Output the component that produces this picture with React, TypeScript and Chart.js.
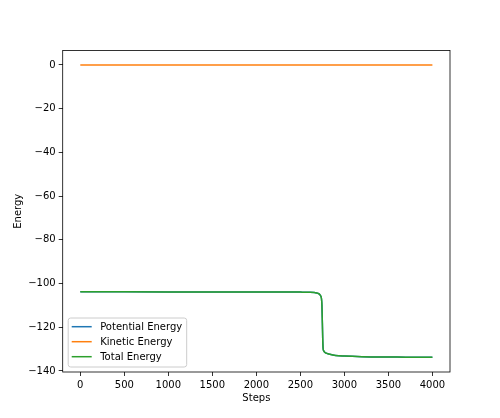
import React, { useEffect, useRef } from "react";
import { Chart, registerables } from "chart.js";
Chart.register(...registerables);

const steps = [0, 1000, 2000, 2500, 2600, 2660, 2700, 2725, 2740, 2745, 2750, 2754, 2758, 2765, 2780, 2800, 2835, 2900, 3000, 3200, 3400, 3700, 4000];
const potentialEnergy = [-103.8, -103.85, -103.9, -103.95, -104.0, -104.15, -104.5, -105.3, -107, -110, -118, -125, -129.5, -130.8, -131.6, -132.0, -132.4, -132.9, -133.2, -133.5, -133.6, -133.7, -133.8];
const kineticEnergy = [0, 0, 0, 0, 0, 0, 0, 0, 0, 0, 0, 0, 0, 0, 0, 0, 0, 0, 0, 0, 0, 0, 0];
const totalEnergy = [-103.8, -103.85, -103.9, -103.95, -104.0, -104.15, -104.5, -105.3, -107, -110, -118, -125, -129.5, -130.8, -131.6, -132.0, -132.4, -132.9, -133.2, -133.5, -133.6, -133.7, -133.8];

const xTickValues = [0, 500, 1000, 1500, 2000, 2500, 3000, 3500, 4000];
const yTickValues = [0, -20, -40, -60, -80, -100, -120, -140];

const seriesNames = ["Potential Energy", "Kinetic Energy", "Total Energy"];
const seriesColors = ["#1f77b4", "#ff7f0e", "#2ca02c"];
const xTitle = "Steps";
const yTitle = "Energy";

const FONT = '"DejaVu Sans", sans-serif';

const fmt = (v: number) => (v < 0 ? "\u2212" + Math.abs(v) : String(v));

const framePlugin = {
  id: "frameBox",
  afterDatasetsDraw(chart: any) {
    const { ctx, chartArea } = chart;
    ctx.save();
    ctx.strokeStyle = "#000";
    ctx.lineWidth = 0.8;
    ctx.strokeRect(chartArea.left, chartArea.top, chartArea.right - chartArea.left, chartArea.bottom - chartArea.top);
    ctx.restore();
  },
};

const legendPlugin = {
  id: "innerLegend",
  afterDatasetsDraw(chart: any) {
    const { ctx, chartArea } = chart;
    const datasets = chart.data.datasets;
    ctx.save();
    ctx.font = "10px " + FONT;
    const widths = datasets.map((d: any) => ctx.measureText(d.label).width);
    const maxW = Math.max(...widths);
    const boxX = chartArea.left + 5.5;
    const boxW = 32 + maxW + 4.5;
    const boxH = 49;
    const boxY = chartArea.bottom - 5 - boxH;
    const r = 2.5;
    ctx.beginPath();
    ctx.moveTo(boxX + r, boxY);
    ctx.lineTo(boxX + boxW - r, boxY);
    ctx.quadraticCurveTo(boxX + boxW, boxY, boxX + boxW, boxY + r);
    ctx.lineTo(boxX + boxW, boxY + boxH - r);
    ctx.quadraticCurveTo(boxX + boxW, boxY + boxH, boxX + boxW - r, boxY + boxH);
    ctx.lineTo(boxX + r, boxY + boxH);
    ctx.quadraticCurveTo(boxX, boxY + boxH, boxX, boxY + boxH - r);
    ctx.lineTo(boxX, boxY + r);
    ctx.quadraticCurveTo(boxX, boxY, boxX + r, boxY);
    ctx.closePath();
    ctx.fillStyle = "rgba(255,255,255,0.8)";
    ctx.fill();
    ctx.strokeStyle = "#cccccc";
    ctx.lineWidth = 1;
    ctx.stroke();
    datasets.forEach((d: any, i: number) => {
      const y = boxY + 8.7 + i * 15;
      ctx.beginPath();
      ctx.strokeStyle = d.borderColor;
      ctx.lineWidth = 1.5;
      ctx.moveTo(boxX + 3.5, y);
      ctx.lineTo(boxX + 23.5, y);
      ctx.stroke();
      ctx.fillStyle = "#000";
      ctx.textBaseline = "middle";
      ctx.textAlign = "left";
      ctx.fillText(d.label, boxX + 32, y + 0.5);
    });
    ctx.restore();
  },
};

export default function App() {
  const ref = useRef<HTMLCanvasElement | null>(null);
  useEffect(() => {
    document.body.style.margin = "0";
    if (!ref.current) return;
    const series = [potentialEnergy, kineticEnergy, totalEnergy];
    const orders = [2, 1, 0];
    const chart = new Chart(ref.current, {
      type: "line",
      data: {
        datasets: series.map((vals, i) => ({
          label: seriesNames[i],
          data: steps.map((s, j) => ({ x: s, y: vals[j] })),
          borderColor: seriesColors[i],
          backgroundColor: seriesColors[i],
          borderWidth: 1.5,
          pointRadius: 0,
          cubicInterpolationMode: "monotone" as const,
          fill: false,
          order: orders[i],
        })),
      },
      options: {
        responsive: false,
        animation: false,
        devicePixelRatio: 1,
        layout: { padding: { left: 0, top: 50.5, right: 50, bottom: 0 } },
        plugins: { legend: { display: false }, tooltip: { enabled: false } },
        scales: {
          x: {
            type: "linear",
            min: -200,
            max: 4200,
            afterFit: (s: any) => {
              s.height = 46;
            },
            afterBuildTicks: (s: any) => {
              s.ticks = xTickValues.map((v) => ({ value: v }));
            },
            border: { display: false },
            grid: { drawOnChartArea: false, drawTicks: true, tickLength: 4, color: "#000", lineWidth: 0.8 },
            ticks: {
              autoSkip: false,
              padding: 3,
              maxRotation: 0,
              color: "#000",
              font: { family: FONT, size: 10 },
              callback: (v: any) => fmt(Number(v)),
            },
            title: {
              display: true,
              text: xTitle,
              color: "#000",
              font: { family: FONT, size: 10 },
              padding: { top: 0, bottom: 14 },
            },
          },
          y: {
            type: "linear",
            min: -140.5,
            max: 6.6,
            afterFit: (s: any) => {
              s.width = 62.7;
            },
            afterBuildTicks: (s: any) => {
              s.ticks = yTickValues.map((v) => ({ value: v }));
            },
            border: { display: false },
            grid: { drawOnChartArea: false, drawTicks: true, tickLength: 4, color: "#000", lineWidth: 0.8 },
            ticks: {
              autoSkip: false,
              padding: 3,
              color: "#000",
              font: { family: FONT, size: 10 },
              callback: (v: any) => fmt(Number(v)),
            },
            title: {
              display: true,
              text: yTitle,
              color: "#000",
              font: { family: FONT, size: 10 },
              padding: { top: 12, bottom: 0 },
            },
          },
        },
      },
      plugins: [framePlugin, legendPlugin],
    });
    return () => chart.destroy();
  }, []);
  return (
    <div style={{ width: 500, height: 418 }}>
      <canvas ref={ref} width={500} height={418} />
    </div>
  );
}
